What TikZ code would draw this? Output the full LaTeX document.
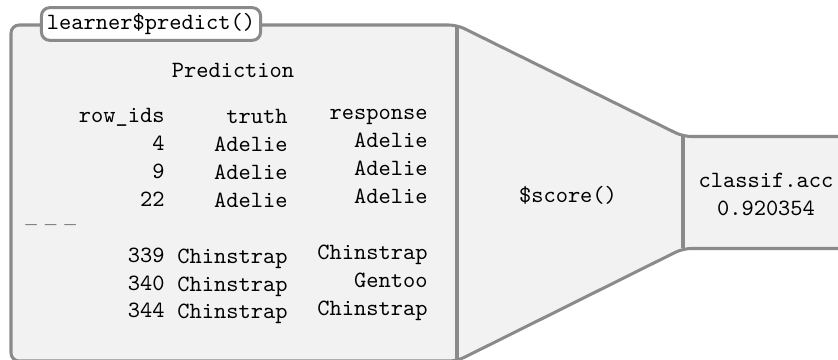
\documentclass[tikz,border=0pt]{standalone}
\usepackage{tikz}
\usetikzlibrary{calc}
\definecolor{edge}{HTML}{8A8A8A}
\definecolor{panel}{HTML}{F2F2F2}
\tikzset{
  outline/.style={draw=edge, line width=1.3pt, line join=round},
  body/.style={outline, fill=panel, rounded corners=3.5pt},
  tag/.style={draw=edge, line width=1.3pt, fill=white, rounded corners=3.5pt,
    minimum width=94pt, minimum height=14pt, inner sep=0pt, font=\ttfamily},
  txt/.style={font=\ttfamily, inner sep=0pt},
  col/.style={txt, align=right, anchor=base east}
}

\begin{document}
\begin{tikzpicture}[x=0.429pt, y=-0.429pt]
  \useasboundingbox (0,0) rectangle (838,360);
  \clip (0,0) rectangle (838,360);
  % panels
  \draw[body] (11,361) -- (11,25) -- (457,25) -- (683,136.5) -- (870,136.5)
    -- (870,248.5) -- (683,248.5) -- (457,361) -- cycle;
  \draw[outline] (457,25) -- (457,364);
  \draw[outline] (683,136.5) -- (683,248.5);
  % prediction table (base = last line)
  \node[tag] (call) at (151,24) {learner\$predict()};
  \node[txt] (pred) at (233,70) {Prediction};
  \node[col] (ids) at (165,318) {row\_ids\\4\\9\\22\\[12pt]339\\340\\344};
  \node[col] (truth) at (288,319) {truth\\Adelie\\Adelie\\Adelie\\[12pt]Chinstrap\\Chinstrap\\Chinstrap};
  \node[col] (resp) at (428,315.5) {response\\Adelie\\Adelie\\Adelie\\[12pt]Chinstrap\\Gentoo\\Chinstrap};
  \node[inner sep=0pt, anchor=base west] (gap) at (25,232) {\textendash\ \textendash\ \textendash};
  % scoring
  \node[txt] (score) at (568,195) {\$score()};
  \node[txt, align=center] (acc) at (766,194) {classif.acc\\0.920354};
\end{tikzpicture}
\end{document}
